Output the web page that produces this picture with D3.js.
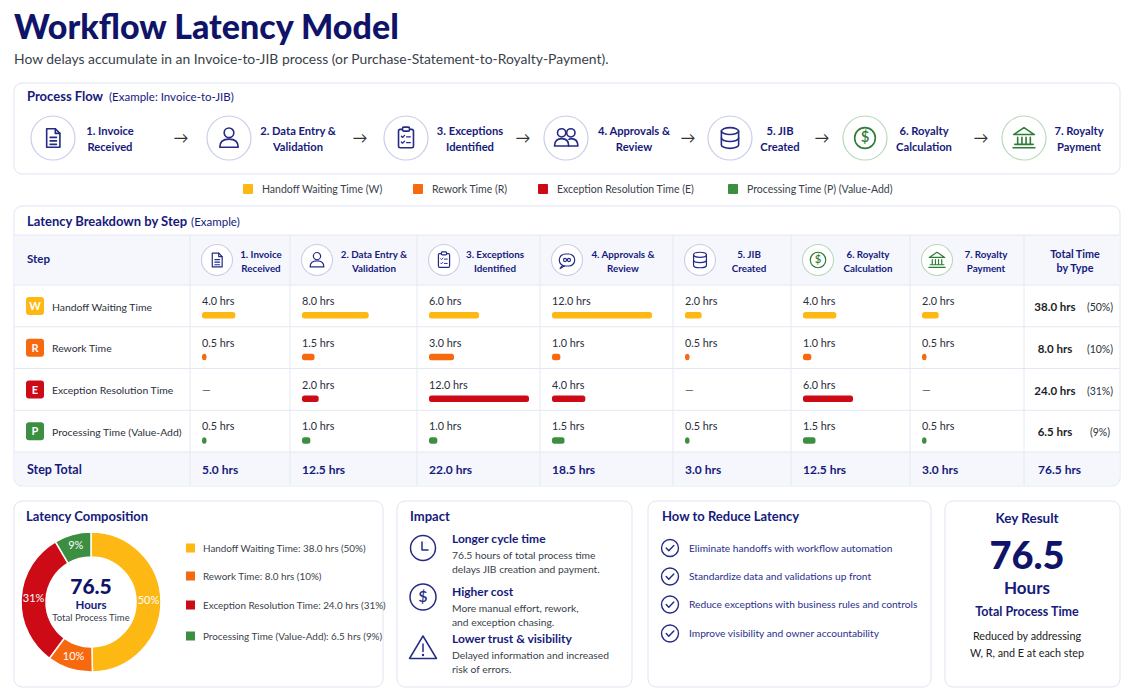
<!DOCTYPE html>
<html>
<head>
<meta charset="utf-8">
<script src="https://cdn.jsdelivr.net/npm/d3@7/dist/d3.min.js"></script>
<style>
  html, body { margin: 0; padding: 0; background: #ffffff; }
  svg { display: block; font-family: Lato, "Open Sans", sans-serif; }
</style>
</head>
<body>
<svg id="chart" width="1141" height="698"></svg>
<script>
// ---------------- DATA ----------------
const steps = ["1. Invoice Received", "2. Data Entry & Validation", "3. Exceptions Identified",
  "4. Approvals & Review", "5. JIB Created", "6. Royalty Calculation", "7. Royalty Payment"];
const stepLine1 = ["1. Invoice", "2. Data Entry &", "3. Exceptions", "4. Approvals &", "5. JIB", "6. Royalty", "7. Royalty"];
const stepLine2 = ["Received", "Validation", "Identified", "Review", "Created", "Calculation", "Payment"];
const stepIcons = ["doc", "person", "clipboard", "people", "db", "dollar", "bank"];

const typeCodes = ["W", "R", "E", "P"];
const typeNames = ["Handoff Waiting Time", "Rework Time", "Exception Resolution Time", "Processing Time (Value-Add)"];
const typeLegend = ["Handoff Waiting Time (W)", "Rework Time (R)", "Exception Resolution Time (E)", "Processing Time (P) (Value-Add)"];
const typeColors = ["#FDB813", "#F7690F", "#CC0B16", "#3C8E40"];

const waitHrs      = [4.0, 8.0, 6.0, 12.0, 2.0, 4.0, 2.0];
const reworkHrs    = [0.5, 1.5, 3.0, 1.0, 0.5, 1.0, 0.5];
const exceptionHrs = [null, 2.0, 12.0, 4.0, null, 6.0, null];
const processHrs   = [0.5, 1.0, 1.0, 1.5, 0.5, 1.5, 0.5];
const typePctLabels = ["50%", "10%", "31%", "9%"];

const impactTitles = ["Longer cycle time", "Higher cost", "Lower trust & visibility"];
const impactLines = [
  ["76.5 hours of total process time", "delays JIB creation and payment."],
  ["More manual effort, rework,", "and exception chasing."],
  ["Delayed information and increased", "risk of errors."]
];
const impactIcons = ["clock", "dollar", "warning"];
const reduceTips = ["Eliminate handoffs with workflow automation", "Standardize data and validations up front",
  "Reduce exceptions with business rules and controls", "Improve visibility and owner accountability"];

// ---------------- DERIVED ----------------
const series = [waitHrs, reworkHrs, exceptionHrs, processHrs];
const typeTotals = series.map(s => d3.sum(s, v => v || 0));
const stepTotals = steps.map((s, i) => d3.sum(series, ser => ser[i] || 0));
const grandTotal = d3.sum(typeTotals);
const fmt = d3.format(".1f");

// ---------------- STYLE ----------------
const NAVY = "#161a7c", DARK = "#0f1468", TXT = "#2b2f3a", GRAY = "#3a3f4a";
const BORDER = "#e0e5f3", LINE = "#e4e8f4", HEAD = "#f5f7fd";
const ICON = "#252c86", GREEN = "#2f7d34";

const svg = d3.select("#chart");
svg.append("rect").attr("width", 1141).attr("height", 698).attr("fill", "#ffffff");

// ---------------- ICONS ----------------
function drawIcon(g, type, color, sw, r) {
  const st = el => el.attr("fill", "none").attr("stroke", color).attr("stroke-width", sw)
    .attr("stroke-linejoin", "round").attr("stroke-linecap", "round");
  if (type === "doc") {
    st(g.append("path").attr("d", "M-5.5,-8 H2 L6,-4 V8 H-5.5 Z"));
    st(g.append("path").attr("d", "M2,-8 V-4 H6"));
    st(g.append("path").attr("d", "M-2.5,-0.5 H3 M-2.5,2.5 H3 M-2.5,5.5 H3"));
  } else if (type === "person") {
    st(g.append("circle").attr("cy", -4.5).attr("r", 4.2));
    st(g.append("path").attr("d", "M-8,8 C-8,2.5 -4,1 0,1 C4,1 8,2.5 8,8 Z"));
  } else if (type === "clipboard") {
    st(g.append("rect").attr("x", -6.5).attr("y", -7.5).attr("width", 13).attr("height", 16).attr("rx", 1.5));
    st(g.append("rect").attr("x", -3).attr("y", -9.5).attr("width", 6).attr("height", 3.5).attr("rx", 1)).attr("fill", "#fff");
    st(g.append("path").attr("d", "M-4,-1.5 l1,1 l1.8,-1.8 M0.5,-1 H3.8 M-4,3.5 l1,1 l1.8,-1.8 M0.5,4 H3.8")).attr("stroke-width", sw * 0.8);
  } else if (type === "people") {
    st(g.append("circle").attr("cx", -3.8).attr("cy", -4.5).attr("r", 3.6));
    st(g.append("circle").attr("cx", 4.2).attr("cy", -4.5).attr("r", 3.6));
    st(g.append("path").attr("d", "M-10,7 C-10,2 -7,0.5 -3.8,0.5 C-0.6,0.5 2.4,2 2.4,7 Z"));
    st(g.append("path").attr("d", "M2.6,1.2 C3.1,0.8 3.6,0.5 4.2,0.5 C7.4,0.5 10.4,2 10.4,7 H2.4"));
  } else if (type === "chat") {
    st(g.append("rect").attr("x", -9).attr("y", -7).attr("width", 18).attr("height", 14).attr("rx", 7));
    st(g.append("path").attr("d", "M-6,7 L-8,10 L-3,7"));
    st(g.append("circle").attr("cx", -2.3).attr("r", 1.8));
    st(g.append("circle").attr("cx", 2.3).attr("r", 1.8));
  } else if (type === "db") {
    st(g.append("ellipse").attr("cy", -6).attr("rx", 7.5).attr("ry", 3));
    st(g.append("path").attr("d", "M-7.5,-6 V6 A7.5,3 0 0 0 7.5,6 V-6"));
    st(g.append("path").attr("d", "M-7.5,0 A7.5,3 0 0 0 7.5,0"));
  } else if (type === "dollar") {
    st(g.append("circle").attr("r", r || 9));
    g.append("text").attr("y", 0.5).attr("text-anchor", "middle").attr("dominant-baseline", "middle")
      .attr("font-size", r ? 16 : 13).attr("font-weight", 600).attr("fill", color).text("$");
  } else if (type === "bank") {
    st(g.append("path").attr("d", "M-9,-3 L0,-9 L9,-3 Z"));
    st(g.append("path").attr("d", "M-5.5,-0.5 V5.5 M-1.8,-0.5 V5.5 M1.8,-0.5 V5.5 M5.5,-0.5 V5.5 M-8,5.5 H8 M-9.5,8.5 H9.5"));
  } else if (type === "clock") {
    st(g.append("circle").attr("r", 12.5));
    st(g.append("path").attr("d", "M-1,-6 V2 H5"));
  } else if (type === "warning") {
    st(g.append("path").attr("d", "M0,-12 L13.5,10.5 H-13.5 Z"));
    st(g.append("path").attr("d", "M0,-4 V3.5"));
    g.append("circle").attr("cy", 7).attr("r", 1.2).attr("fill", color);
  } else if (type === "check") {
    st(g.append("circle").attr("r", 8.5));
    st(g.append("path").attr("d", "M-3.8,0 L-1.2,2.8 L3.8,-2.6"));
  }
}

function panel(x, y, w, h) {
  svg.append("rect").attr("x", x).attr("y", y).attr("width", w).attr("height", h)
    .attr("rx", 8).attr("fill", "#fff").attr("stroke", BORDER).attr("stroke-width", 1);
}

// ---------------- HEADER ----------------
svg.append("text").attr("x", 14).attr("y", 39).attr("font-size", 34).attr("font-weight", 900)
  .attr("fill", DARK).text("Workflow Latency Model");
svg.append("text").attr("x", 14).attr("y", 64).attr("font-size", 13.9).attr("fill", GRAY)
  .text("How delays accumulate in an Invoice-to-JIB process (or Purchase-Statement-to-Royalty-Payment).");

// ---------------- PROCESS FLOW ----------------
panel(14, 83, 1106, 91);
const pft = svg.append("text").attr("x", 27).attr("y", 101).attr("fill", NAVY);
pft.append("tspan").attr("font-size", 13).attr("font-weight", 700).text("Process Flow");
pft.append("tspan").attr("font-size", 11.5).attr("dx", 6).text("(Example: Invoice-to-JIB)");

const flowX = d3.scaleOrdinal(steps, [53, 229, 406, 566, 730, 865, 1024]);
const flowLabelX = d3.scaleOrdinal(steps, [110, 298, 470, 634, 780, 924, 1079]);
const arrowX = [181, 360, 523, 688, 822, 981];
const isGreen = i => i >= 5;

steps.forEach((s, i) => {
  const g = svg.append("g").attr("transform", `translate(${flowX(s)},138)`);
  g.append("circle").attr("r", 22).attr("fill", "#fff")
    .attr("stroke", isGreen(i) ? "#b8d9ba" : "#c9cde8").attr("stroke-width", 1.2);
  const ig = g.append("g").attr("transform", "scale(1.15)");
  drawIcon(ig, stepIcons[i], isGreen(i) ? GREEN : ICON, 1.4);
  const t = svg.append("text").attr("text-anchor", "middle").attr("font-size", 11.2)
    .attr("font-weight", 700).attr("fill", NAVY);
  t.append("tspan").attr("x", flowLabelX(s)).attr("y", 135).text(stepLine1[i]);
  t.append("tspan").attr("x", flowLabelX(s)).attr("y", 151).text(stepLine2[i]);
});
arrowX.forEach(x => {
  svg.append("text").attr("x", x).attr("y", 143).attr("text-anchor", "middle")
    .attr("font-size", 15).attr("fill", "#333").text("→");
});

// legend
const legX = [243, 413, 538, 728];
typeLegend.forEach((l, i) => {
  svg.append("rect").attr("x", legX[i]).attr("y", 184).attr("width", 10).attr("height", 10)
    .attr("rx", 1).attr("fill", typeColors[i]);
  svg.append("text").attr("x", legX[i] + 19).attr("y", 193).attr("font-size", 10.5)
    .attr("fill", GRAY).text(l);
});

// ---------------- TABLE ----------------
const TX = 14, TW = 1106, TY = 206, TH = 280;
panel(TX, TY, TW, TH);
svg.append("clipPath").attr("id", "tclip").append("rect")
  .attr("x", TX + 0.5).attr("y", TY + 0.5).attr("width", TW - 1).attr("height", TH - 1).attr("rx", 8);
const tg = svg.append("g").attr("clip-path", "url(#tclip)");

const tt = svg.append("text").attr("x", 27).attr("y", 226).attr("fill", NAVY);
tt.append("tspan").attr("font-size", 13).attr("font-weight", 700).text("Latency Breakdown by Step");
tt.append("tspan").attr("font-size", 11.5).attr("dx", 4).text("(Example)");

const colLeft = d3.scaleOrdinal(steps, [190, 290, 417, 540, 673, 791, 910]);
const headLabelX = d3.scaleOrdinal(steps, [261, 374, 495, 623, 749, 868, 986]);
const totalLeft = 1024;
const headTop = 235, headBot = 285, totTop = 452, tabBot = TY + TH;
const rowY = d3.scaleBand(typeCodes, [headBot, totTop]);
const barW = d3.scaleLinear([0, 12], [0, 100]);

tg.append("rect").attr("x", TX).attr("y", headTop).attr("width", TW).attr("height", headBot - headTop).attr("fill", HEAD);
tg.append("rect").attr("x", TX).attr("y", totTop).attr("width", TW).attr("height", tabBot - totTop).attr("fill", HEAD);

// grid
[headTop, ...typeCodes.map(c => rowY(c)), totTop].forEach(y => {
  tg.append("line").attr("x1", TX).attr("x2", TX + TW).attr("y1", y).attr("y2", y)
    .attr("stroke", LINE).attr("stroke-width", 1);
});
[...steps.map(s => colLeft(s)), totalLeft].forEach(x => {
  tg.append("line").attr("x1", x).attr("x2", x).attr("y1", headTop).attr("y2", tabBot)
    .attr("stroke", LINE).attr("stroke-width", 1);
});

// header
svg.append("text").attr("x", 27).attr("y", 263).attr("font-size", 11.5).attr("font-weight", 700)
  .attr("fill", NAVY).text("Step");
const tableIcons = ["doc", "person", "clipboard", "chat", "db", "dollar", "bank"];
steps.forEach((s, i) => {
  const cx = colLeft(s) + 27;
  const g = svg.append("g").attr("transform", `translate(${cx},260)`);
  g.append("circle").attr("r", 15.5).attr("fill", "#fff")
    .attr("stroke", isGreen(i) ? "#b8d9ba" : "#c9cde8").attr("stroke-width", 1.1);
  drawIcon(g.append("g").attr("transform", "scale(0.86)"), tableIcons[i], isGreen(i) ? GREEN : ICON, 1.4);
  const t = svg.append("text").attr("text-anchor", "middle").attr("font-size", 9.8)
    .attr("font-weight", 700).attr("fill", NAVY);
  t.append("tspan").attr("x", headLabelX(s)).attr("y", 257.5).text(stepLine1[i]);
  t.append("tspan").attr("x", headLabelX(s)).attr("y", 272).text(stepLine2[i]);
});
const th = svg.append("text").attr("text-anchor", "middle").attr("font-size", 10.8)
  .attr("font-weight", 700).attr("fill", NAVY);
th.append("tspan").attr("x", 1075).attr("y", 257.5).text("Total Time");
th.append("tspan").attr("x", 1075).attr("y", 272).text("by Type");

// rows
typeCodes.forEach((code, r) => {
  const y0 = rowY(code);
  svg.append("rect").attr("x", 26).attr("y", y0 + 12).attr("width", 18).attr("height", 18)
    .attr("rx", 3).attr("fill", typeColors[r]);
  svg.append("text").attr("x", 35).attr("y", y0 + 25).attr("text-anchor", "middle")
    .attr("font-size", 11).attr("font-weight", 700).attr("fill", "#fff").text(code);
  svg.append("text").attr("x", 52).attr("y", y0 + 25.5).attr("font-size", 10.4)
    .attr("fill", TXT).text(typeNames[r]);

  steps.forEach((s, i) => {
    const v = series[r][i];
    const x0 = colLeft(s) + 12;
    if (v == null) {
      svg.append("text").attr("x", x0).attr("y", y0 + 25).attr("font-size", 11)
        .attr("fill", "#555").text("—");
    } else {
      svg.append("text").attr("x", x0).attr("y", y0 + 20).attr("font-size", 10.8)
        .attr("fill", TXT).text(fmt(v) + " hrs");
      svg.append("rect").attr("x", x0).attr("y", y0 + 27).attr("height", 6.5)
        .attr("width", Math.max(4.5, barW(v))).attr("rx", 2.5).attr("fill", typeColors[r]);
    }
  });
  svg.append("text").attr("x", 1055).attr("y", y0 + 26).attr("text-anchor", "middle")
    .attr("font-size", 11.5).attr("font-weight", 700).attr("fill", "#1d1f26").text(fmt(typeTotals[r]) + " hrs");
  svg.append("text").attr("x", 1100).attr("y", y0 + 26).attr("text-anchor", "middle")
    .attr("font-size", 10.5).attr("fill", TXT).text("(" + typePctLabels[r] + ")");
});

// totals row
svg.append("text").attr("x", 27).attr("y", 474).attr("font-size", 12.5).attr("font-weight", 700)
  .attr("fill", NAVY).text("Step Total");
steps.forEach((s, i) => {
  svg.append("text").attr("x", colLeft(s) + 12).attr("y", 474).attr("font-size", 12)
    .attr("font-weight", 700).attr("fill", NAVY).text(fmt(stepTotals[i]) + " hrs");
});
svg.append("text").attr("x", 1038).attr("y", 474).attr("font-size", 12)
  .attr("font-weight", 700).attr("fill", NAVY).text(fmt(grandTotal) + " hrs");

// ---------------- LATENCY COMPOSITION ----------------
panel(14, 501, 369, 186);
svg.append("text").attr("x", 26).attr("y", 521).attr("font-size", 13).attr("font-weight", 700)
  .attr("fill", NAVY).text("Latency Composition");

const pie = d3.pie().sort(null).value(d => d.v);
const pieData = pie(typeCodes.map((c, i) => ({ c, v: typeTotals[i], i })));
const arc = d3.arc().innerRadius(45).outerRadius(70);
const labelArc = d3.arc().innerRadius(57.5).outerRadius(57.5);
const dg = svg.append("g").attr("transform", "translate(91,602)");
dg.selectAll("path").data(pieData).join("path")
  .attr("d", arc).attr("fill", d => typeColors[d.data.i]).attr("stroke", "#fff").attr("stroke-width", 1.5);
dg.selectAll("text.pl").data(pieData).join("text").attr("class", "pl")
  .attr("transform", d => `translate(${labelArc.centroid(d)})`)
  .attr("text-anchor", "middle").attr("dominant-baseline", "middle")
  .attr("font-size", 11).attr("fill", "#fff").text(d => typePctLabels[d.data.i]);
dg.append("text").attr("y", -8).attr("text-anchor", "middle").attr("font-size", 21)
  .attr("font-weight", 900).attr("fill", DARK).text(fmt(grandTotal));
dg.append("text").attr("y", 7).attr("text-anchor", "middle").attr("font-size", 11.5)
  .attr("font-weight", 700).attr("fill", NAVY).text("Hours");
dg.append("text").attr("y", 19).attr("text-anchor", "middle").attr("font-size", 9.5)
  .attr("fill", GRAY).text("Total Process Time");

const compLegY = [548, 576, 605, 636];
typeNames.forEach((n, i) => {
  svg.append("rect").attr("x", 186).attr("y", compLegY[i] - 4.5).attr("width", 9).attr("height", 9)
    .attr("fill", typeColors[i]);
  svg.append("text").attr("x", 203).attr("y", compLegY[i] + 3.5).attr("font-size", 9.9)
    .attr("fill", GRAY).text(`${n}: ${fmt(typeTotals[i])} hrs (${typePctLabels[i]})`);
});

// ---------------- IMPACT ----------------
panel(397, 501, 235, 186);
svg.append("text").attr("x", 410).attr("y", 521).attr("font-size", 13).attr("font-weight", 700)
  .attr("fill", NAVY).text("Impact");
const impIconY = [548, 597, 648];
const impTitleY = [543, 596, 643];
impactTitles.forEach((t, i) => {
  drawIcon(svg.append("g").attr("transform", `translate(423,${impIconY[i]})`), impactIcons[i], ICON, 1.5,
    impactIcons[i] === "dollar" ? 13 : undefined);
  svg.append("text").attr("x", 452).attr("y", impTitleY[i]).attr("font-size", 12)
    .attr("font-weight", 700).attr("fill", NAVY).text(t);
  impactLines[i].forEach((l, j) => {
    svg.append("text").attr("x", 452).attr("y", impTitleY[i] + 16 + j * 13.5).attr("font-size", 10.3)
      .attr("fill", GRAY).text(l);
  });
});

// ---------------- HOW TO REDUCE ----------------
panel(648, 501, 283, 186);
svg.append("text").attr("x", 662).attr("y", 521).attr("font-size", 13).attr("font-weight", 700)
  .attr("fill", NAVY).text("How to Reduce Latency");
const tipY = [548, 576.5, 604.5, 633.5];
reduceTips.forEach((t, i) => {
  drawIcon(svg.append("g").attr("transform", `translate(670,${tipY[i]})`), "check", ICON, 1.4);
  svg.append("text").attr("x", 689).attr("y", tipY[i] + 3.5).attr("font-size", 10.2)
    .attr("fill", "#2a2f8c").text(t);
});

// ---------------- KEY RESULT ----------------
panel(945, 501, 175, 186);
svg.append("text").attr("x", 1027).attr("y", 523).attr("text-anchor", "middle").attr("font-size", 13.5)
  .attr("font-weight", 700).attr("fill", NAVY).text("Key Result");
svg.append("text").attr("x", 1027).attr("y", 569).attr("text-anchor", "middle").attr("font-size", 38)
  .attr("font-weight", 900).attr("fill", DARK).text(fmt(grandTotal));
svg.append("text").attr("x", 1027).attr("y", 594).attr("text-anchor", "middle").attr("font-size", 17)
  .attr("font-weight", 700).attr("fill", NAVY).text("Hours");
svg.append("text").attr("x", 1027).attr("y", 616).attr("text-anchor", "middle").attr("font-size", 12.5)
  .attr("font-weight", 700).attr("fill", NAVY).text("Total Process Time");
svg.append("text").attr("x", 1027).attr("y", 640).attr("text-anchor", "middle").attr("font-size", 10.8)
  .attr("fill", "#222").text("Reduced by addressing");
svg.append("text").attr("x", 1027).attr("y", 657).attr("text-anchor", "middle").attr("font-size", 10.8)
  .attr("fill", "#222").text("W, R, and E at each step");
</script>
</body>
</html>
